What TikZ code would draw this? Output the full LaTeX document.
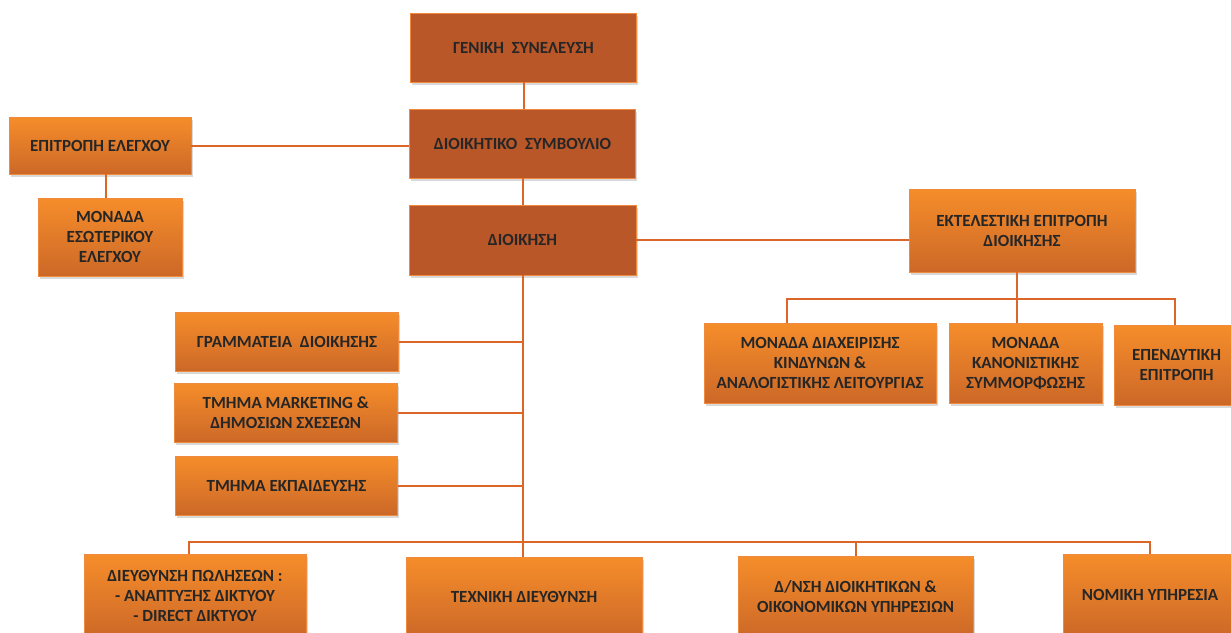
\documentclass[tikz,border=0pt]{standalone}
\usepackage{fontspec}
\setmainfont{Carlito}
\usetikzlibrary{shadows}
\definecolor{darkc}{RGB}{185,87,40}
\definecolor{bordc}{RGB}{240,138,62}
\definecolor{topc}{RGB}{246,141,42}
\definecolor{midc}{RGB}{238,128,40}
\definecolor{botc}{RGB}{204,104,40}
\definecolor{txt}{RGB}{38,38,38}
\definecolor{linec}{RGB}{220,102,40}
\tikzset{
  base/.style={draw=bordc, line width=0.9pt, align=center, inner sep=0pt,
    font=\fontsize{17}{20}\selectfont\bfseries, text=txt,
    drop shadow={shadow xshift=1.5pt, shadow yshift=-3pt, opacity=0.25, fill=black!60}},
  darkbox/.style={base, fill=darkc},
  lightbox/.style={base, top color=topc, middle color=midc, bottom color=botc},
  conn/.style={draw=linec, line width=2pt},
}
\begin{document}
\begin{tikzpicture}[x=1pt,y=-1pt]
\useasboundingbox (0,0) rectangle (1231,632);
% top column
\node[darkbox, minimum width=226pt, minimum height=69pt] (gs) at (523.5,47.5) {ΓΕΝΙΚΗ\ \ ΣΥΝΕΛΕΥΣΗ};
\node[darkbox, minimum width=226pt, minimum height=69pt] (dsb) at (522.5,143.5) {ΔΙΟΙΚΗΤΙΚΟ\ \ ΣΥΜΒΟΥΛΙΟ};
\node[darkbox, minimum width=227pt, minimum height=70pt] (dio) at (522.5,240) {ΔΙΟΙΚΗΣΗ};
% left
\node[lightbox, minimum width=182pt, minimum height=57pt] (ee) at (100,145.5) {ΕΠΙΤΡΟΠΗ ΕΛΕΓΧΟΥ};
\node[lightbox, minimum width=144pt, minimum height=78pt] (mee) at (110,237) {ΜΟΝΑΔΑ\\ΕΣΩΤΕΡΙΚΟΥ\\ΕΛΕΓΧΟΥ};
% right
\node[lightbox, minimum width=226pt, minimum height=83pt] (ek) at (1022,230.5) {ΕΚΤΕΛΕΣΤΙΚΗ ΕΠΙΤΡΟΠΗ\\ΔΙΟΙΚΗΣΗΣ};
\node[lightbox, minimum width=232pt, minimum height=80pt] (md) at (820,363) {ΜΟΝΑΔΑ ΔΙΑΧΕΙΡΙΣΗΣ\\ΚΙΝΔΥΝΩΝ \&\\ΑΝΑΛΟΓΙΣΤΙΚΗΣ ΛΕΙΤΟΥΡΓΙΑΣ};
\node[lightbox, minimum width=153pt, minimum height=80pt] (mk) at (1025.5,363) {ΜΟΝΑΔΑ\\ΚΑΝΟΝΙΣΤΙΚΗΣ\\ΣΥΜΜΟΡΦΩΣΗΣ};
\node[lightbox, minimum width=125pt, minimum height=80pt] (ep) at (1176.5,365) {ΕΠΕΝΔΥΤΙΚΗ\\ΕΠΙΤΡΟΠΗ};
% staff
\node[lightbox, minimum width=223pt, minimum height=59pt] (gr) at (287,341.5) {ΓΡΑΜΜΑΤΕΙΑ\ \ ΔΙΟΙΚΗΣΗΣ};
\node[lightbox, minimum width=223pt, minimum height=59pt] (mkt) at (285.75,412.5) {ΤΜΗΜΑ MARKETING \&\\ΔΗΜΟΣΙΩΝ ΣΧΕΣΕΩΝ};
\node[lightbox, minimum width=222pt, minimum height=59pt] (ekp) at (286.5,485.5) {ΤΜΗΜΑ ΕΚΠΑΙΔΕΥΣΗΣ};
% bottom
\node[lightbox, minimum width=222pt, minimum height=84pt] (sales) at (195,596) {ΔΙΕΥΘΥΝΣΗ ΠΩΛΗΣΕΩΝ :\\- ΑΝΑΠΤΥΞΗΣ ΔΙΚΤΥΟΥ\\- DIRECT ΔΙΚΤΥΟΥ};
\node[lightbox, minimum width=236pt, minimum height=80pt] (tech) at (524,597) {ΤΕΧΝΙΚΗ ΔΙΕΥΘΥΝΣΗ};
\node[lightbox, minimum width=235pt, minimum height=82pt] (dn) at (855.5,597) {Δ/ΝΣΗ ΔΙΟΙΚΗΤΙΚΩΝ \&\\ΟΙΚΟΝΟΜΙΚΩΝ ΥΠΗΡΕΣΙΩΝ};
\node[lightbox, minimum width=174pt, minimum height=82pt] (nom) at (1150,595) {ΝΟΜΙΚΗ ΥΠΗΡΕΣΙΑ};
% junction coordinates
\coordinate (ej) at (1017,299);
\coordinate (ejL) at (786.5,299);
\coordinate (ejR) at (1174.5,299);
\coordinate (bL) at (188.6,541.7);
\coordinate (bR) at (1150,541.7);
\coordinate (bM) at (522.5,541.7);
% connectors
\draw[conn] (gs.south) -- (gs.south |- dsb.north);
\draw[conn] (dsb.south) -- (dsb.south |- dio.north);
\draw[conn] (ee.east) -- (ee.east -| dsb.west);
\draw[conn] ([xshift=6pt]ee.south) -- ([xshift=6pt]ee.south |- mee.north);
\draw[conn] (dio.east) -- (dio.east -| ek.west);
\draw[conn] (ek.south -| ej) -- (mk.north -| ej);
\draw[conn] (md.north -| ejL) -- (ejL) -- (ejR) -- (ep.north -| ejR);
\draw[conn] (dio.south) -- (bM) -- (tech.north -| bM);
\draw[conn] (gr.east) -- (gr.east -| dio.south);
\draw[conn] (mkt.east) -- (mkt.east -| dio.south);
\draw[conn] (ekp.east) -- (ekp.east -| dio.south);
\draw[conn] (sales.north -| bL) -- (bL) -- (bR) -- (nom.north);
\draw[conn] (dn.north) -- (dn.north |- bL);
\end{tikzpicture}
\end{document}
